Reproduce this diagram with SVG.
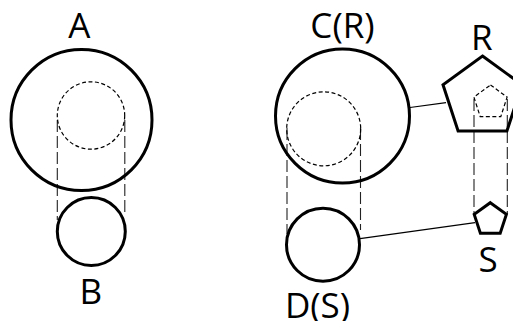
<svg xmlns="http://www.w3.org/2000/svg" width="513" height="321" viewBox="0 0 513 321">
  <style>
    .shape { fill: none; stroke: #000; stroke-width: 3; }
    .inner { fill: none; stroke: #000; stroke-width: 1.2; stroke-dasharray: 4 2.5; }
    .guide { fill: none; stroke: #222; stroke-width: 1.1; stroke-dasharray: 12 4; }
    .link { fill: none; stroke: #000; stroke-width: 1.2; }
    .label { font-family: "Open Sans", "DejaVu Sans", sans-serif; font-size: 35px; fill: #000; text-anchor: middle; }
  </style>
  <rect width="513" height="321" fill="#fff"/>

  <!-- projection guides and links -->
  <g id="connectors">
    <line class="guide" x1="57.3" y1="120" x2="57.3" y2="220"/>
    <line class="guide" x1="124.8" y1="120" x2="124.8" y2="214"/>
    <line class="guide" x1="287" y1="128" x2="287" y2="234"/>
    <line class="guide" x1="360.5" y1="128" x2="360.5" y2="230"/>
    <line class="guide" x1="474" y1="99" x2="474" y2="214"/>
    <line class="guide" x1="507.3" y1="99" x2="507.3" y2="214"/>
    <line class="link" x1="410" y1="107.5" x2="446" y2="102.7"/>
    <line class="link" x1="360" y1="238.7" x2="475" y2="222.7"/>
  </g>

  <g id="A">
    <circle class="shape" cx="81.5" cy="120" r="70.5"/>
    <circle class="inner" cx="91" cy="115.5" r="33.7"/>
    <text class="label" x="79.2" y="38">A</text>
  </g>

  <g id="B">
    <circle class="shape" cx="91.3" cy="231.5" r="34"/>
    <text class="label" x="90.8" y="304">B</text>
  </g>

  <g id="C">
    <circle class="shape" cx="342.5" cy="116" r="67"/>
    <circle class="inner" cx="323.7" cy="128.8" r="37"/>
    <text class="label" x="342.5" y="38">C(R)</text>
  </g>

  <g id="D">
    <circle class="shape" cx="323" cy="244.7" r="36.5"/>
    <text class="label" x="317.5" y="318">D(S)</text>
  </g>

  <g id="R">
    <polygon class="shape" points="482.5,56 522,84.7 506.9,131 458.1,131 443,84.7"/>
    <polygon class="inner" points="490.5,85 507.1,97.1 500.8,116.6 480.2,116.6 473.9,97.1"/>
    <text class="label" x="481.7" y="50">R</text>
  </g>

  <g id="S">
    <polygon class="shape" points="490.3,202.7 506.4,214.4 500.2,233.3 480.4,233.3 474.2,214.4"/>
    <text class="label" x="488" y="271.5">S</text>
  </g>
</svg>
